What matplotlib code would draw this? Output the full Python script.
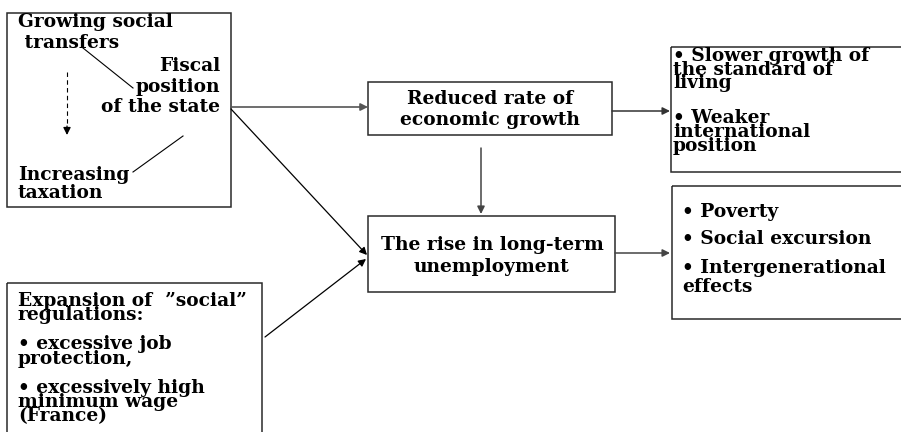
import matplotlib
matplotlib.use("Agg")
import matplotlib.pyplot as plt
from matplotlib.patches import Rectangle

# ---- content ----
box1_left_lines = ["Growing social", " transfers"]
box1_right_lines = ["Fiscal", "position", "of the state"]
box1_bottom_lines = ["Increasing", "taxation"]
growth_lines = ["Reduced rate of", "economic growth"]
unemp_lines = ["The rise in long-term", "unemployment"]
effects_top_lines = ["\u2022 Slower growth of", "the standard of", "living",
                     "\u2022 Weaker", "international", "position"]
effects_bottom_lines = ["\u2022 Poverty", "\u2022 Social excursion",
                        "\u2022 Intergenerational", "effects"]
regulation_lines = ["Expansion of  \u201dsocial\u201d", "regulations:",
                    "\u2022 excessive job", "protection,",
                    "\u2022 excessively high", "minimum wage", "(France)"]

# ---- layout (pixel coordinates, y downward) ----
W, H = 901, 432
FS = 13.4
FONT = dict(family="DejaVu Serif", weight="bold", fontsize=FS, color="black")

fig = plt.figure(figsize=(W / 100, H / 100), dpi=100)
ax = fig.add_axes([0, 0, 1, 1])
ax.set_xlim(0, W)
ax.set_ylim(H, 0)
ax.axis("off")

BOX_KW = dict(fill=False, edgecolor="#2a2a2a", linewidth=1.1)


def box(x0, y0, x1, y1):
    ax.add_patch(Rectangle((x0, y0), x1 - x0, y1 - y0, **BOX_KW))


def lines(texts, x, baselines, ha="left"):
    for t, y in zip(texts, baselines):
        ax.text(x, y, t, ha=ha, va="baseline", **FONT)


def arrow(p0, p1, color="black", lw=0.9):
    ax.annotate("", xy=p1, xytext=p0,
                arrowprops=dict(arrowstyle="-|>", mutation_scale=11, lw=lw,
                                color=color, shrinkA=0, shrinkB=0))


def seg(p0, p1, color="black", lw=0.8):
    ax.plot([p0[0], p1[0]], [p0[1], p1[1]], color=color, lw=lw)


# Box 1: fiscal position
box(7, 13, 231, 207)
lines(box1_left_lines, 18, [27, 48])
lines(box1_right_lines, 220, [71, 92, 112], ha="right")
lines(box1_bottom_lines, 18, [180, 198])
seg((83, 48), (133, 88))
seg((133, 172), (183, 136))
ax.plot([67, 67], [72, 128], color="black", lw=0.8, ls=(0, (4, 3)))
arrow((67, 126), (67, 135))

# Box 2: reduced growth
box(368, 82, 612, 135)
lines(growth_lines, 490, [104, 125], ha="center")

# Box 3: unemployment
box(368, 216, 615, 292)
lines(unemp_lines, 492, [250, 272], ha="center")

# Box 4: top-right effects
box(671, 47, 910, 172)
lines(effects_top_lines, 673, [61, 75, 88, 123, 137, 151])

# Box 5: bottom-right effects
box(672, 186, 910, 319)
lines(effects_bottom_lines, 682, [217, 244, 273, 292])

# Box 6: regulations
box(7, 283, 262, 445)
lines(regulation_lines, 18, [306, 320, 349, 364, 393, 407, 421])

# Arrows
arrow((231, 107), (368, 107), color="#555555", lw=1.2)
arrow((231, 109), (367, 255))
arrow((265, 337), (366, 259))
arrow((481, 148), (481, 214), color="#444444", lw=1.1)
arrow((612, 111), (670, 111), color="#333333", lw=1.1)
arrow((615, 253), (670, 253), color="#444444", lw=1.1)

fig.savefig("out.png", dpi=100)
